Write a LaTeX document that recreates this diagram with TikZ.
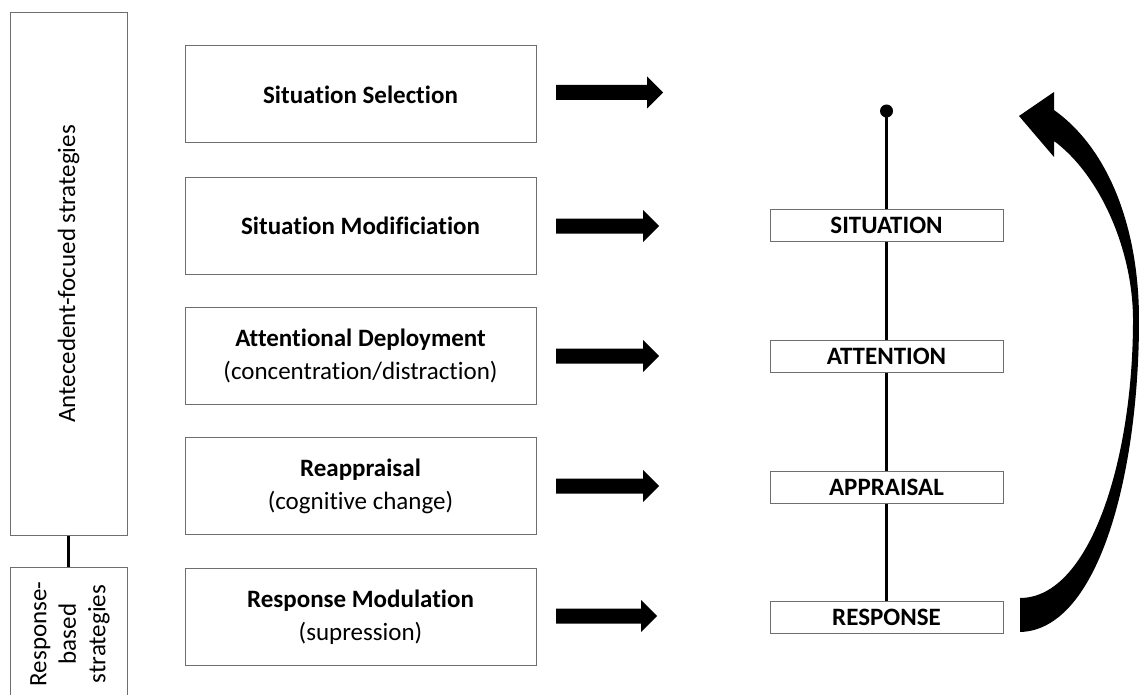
\documentclass[tikz,border=0pt]{standalone}
\usepackage{fontspec}
\setmainfont{Carlito}[Ligatures=NoCommon]
\usetikzlibrary{positioning}
\definecolor{boxgray}{RGB}{110,110,110}
\tikzset{
  stratbox/.style={draw=boxgray, line width=1pt, minimum width=351pt, minimum height=97pt, align=center, font=\fontsize{25}{33}\selectfont},
  stagebox/.style={draw=boxgray, line width=1pt, minimum width=233pt, minimum height=32pt, inner sep=0pt, font=\fontsize{25}{28}\selectfont\bfseries},
  sidebox/.style={draw=boxgray, line width=1pt, minimum width=117pt},
  blockarrow/.style={fill=black},
}
\begin{document}
\begin{tikzpicture}[x=1pt,y=-1pt]
  \useasboundingbox (0,0) rectangle (1139,695);
  % left side boxes
  \node[sidebox, minimum height=522pt] (antec) at (68.5,274) {};
  \node[rotate=90, font=\fontsize{25}{28}\selectfont] at (antec.center) {Antecedent-focued strategies};
  \node[sidebox, minimum height=140pt, anchor=north] (resp) at (68.5,567) {};
  \node[rotate=90, align=center, font=\fontsize{25}{29.5}\selectfont] at (70,634) {Response-\\based\\strategies};
  \draw[line width=3pt] (antec.south) -- (resp.north);
  % strategy boxes
  \node[stratbox] (sel) at (360.5,94.5) {\textbf{Situation Selection}};
  \node[stratbox] (mod) at (360.5,225.5) {\textbf{Situation Modificiation}};
  \node[stratbox] (dep) at (360.5,356) {\textbf{Attentional Deployment}\\(concentration/distraction)};
  \node[stratbox] (reap) at (360.5,486) {\textbf{Reappraisal}\\(cognitive change)};
  \node[stratbox] (rmod) at (360.5,617) {\textbf{Response Modulation}\\(supression)};
  % block arrows
  \foreach \yy/\xe in {92.5/663, 226/659, 356/659, 486/659, 616/657}{
    \fill[blockarrow] (556,\yy-7.5) -- (\xe-16,\yy-7.5) -- (\xe-16,\yy-16)
      -- (\xe,\yy) -- (\xe-16,\yy+16) -- (\xe-16,\yy+7.5) -- (556,\yy+7.5) -- cycle;
  }
  % process stages
  \node[stagebox] (sit) at (886.5,225) {SITUATION};
  \node[stagebox] (att) at (886.5,356) {ATTENTION};
  \node[stagebox] (app) at (886.5,487) {APPRAISAL};
  \node[stagebox] (res) at (886.5,617) {RESPONSE};
  \coordinate (top) at (886.5,111);
  \fill (top) circle (6.5pt);
  \draw[line width=2.6pt] (top) -- (sit) -- (att) -- (app) -- (res);
  % feedback arrow
  \fill (1020,632) .. controls (1100,630) and (1139,470) .. (1139,320)
    .. controls (1139,230) and (1110,150) .. (1054,110) -- (1054,92) -- (1019,116)
    -- (1054,157) -- (1054,141) .. controls (1100,175) and (1133,250) .. (1133,320)
    .. controls (1133,460) and (1090,598) .. (1020,598) -- cycle;
\end{tikzpicture}
\end{document}
